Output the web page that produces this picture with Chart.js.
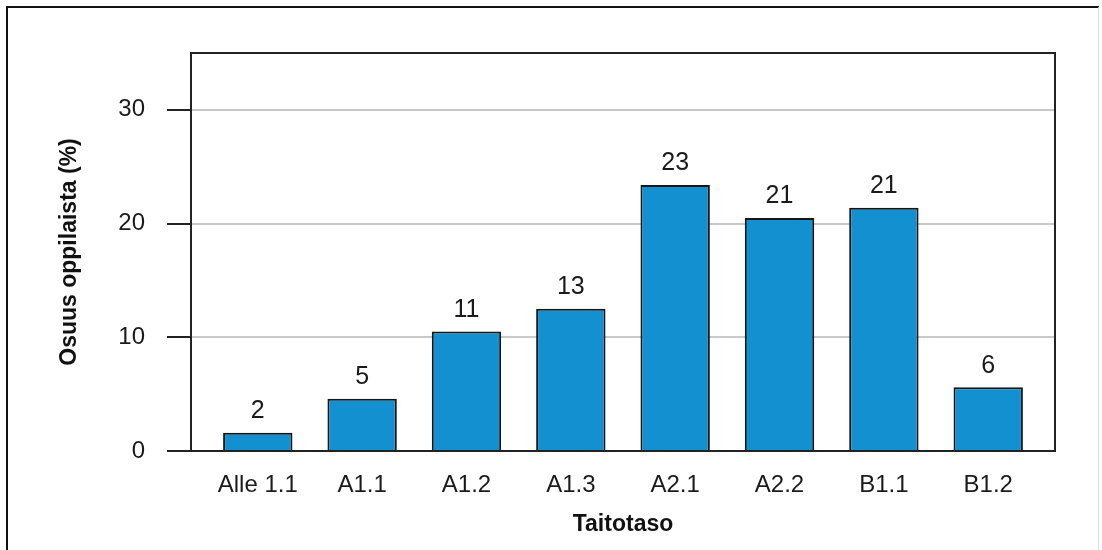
<!DOCTYPE html>
<html>
<head>
<meta charset="utf-8">
<script src="https://cdn.jsdelivr.net/npm/chart.js@4"></script>
<style>
    html, body { margin: 0; padding: 0; background: #ffffff; }
    #frame {
        position: absolute;
        left: 6px; top: 6px;
        width: 1090px; height: 560px;
        border-top: 2px solid #111111;
        border-left: 2px solid #111111;
        border-right: 1px solid #dddddd;
    }
    #wrap { position: absolute; left: 0; top: 0; width: 1102px; height: 550px; }
</style>
</head>
<body>
<div id="frame"></div>
<div id="wrap"><canvas id="bar" width="1102" height="550"></canvas></div>
<script>
// SKILL LEVEL DISTRIBUTION
const levels = ["Alle 1.1", "A1.1", "A1.2", "A1.3", "A2.1", "A2.2", "B1.1", "B1.2"];
const shares = [1.6, 4.6, 10.5, 12.5, 23.4, 20.5, 21.4, 5.6];
const yTicks = [0, 10, 20, 30];

const FONT = "'Liberation Sans', Arial, sans-serif";

// value labels above each bar
const barLabels = {
    id: 'barLabels',
    afterDatasetsDraw(chart) {
        const c = chart.ctx;
        const meta = chart.getDatasetMeta(0);
        c.save();
        c.fillStyle = '#1a1a1a';
        c.font = '25px ' + FONT;
        c.textAlign = 'center';
        c.textBaseline = 'bottom';
        meta.data.forEach((bar, i) => {
            c.fillText(String(Math.round(shares[i])), bar.x, bar.y - 9);
        });
        c.restore();
    }
};

// black box round the plot area
const plotFrame = {
    id: 'plotFrame',
    afterDatasetsDraw(chart) {
        const a = chart.chartArea;
        const c = chart.ctx;
        c.save();
        c.strokeStyle = '#222222';
        c.lineWidth = 2;
        c.strokeRect(a.left, a.top, a.right - a.left, a.bottom - a.top);
        c.restore();
    }
};

const ctx = document.getElementById("bar").getContext("2d");

new Chart(ctx, {
    type: 'bar',
    data: {
        datasets: [{
            label: 'Osuus oppilaista (%)',
            data: levels.map((_, i) => ({ x: i, y: shares[i] })),
            backgroundColor: '#1390d0',
            borderColor: '#161616',
            borderWidth: 2,
            borderSkipped: 'bottom',
            barPercentage: 0.665,
            categoryPercentage: 1
        }]
    },
    options: {
        responsive: false,
        animation: false,
        layout: {
            padding: { top: 53, right: 47, bottom: 11, left: 50 }
        },
        plugins: {
            legend: { display: false },
            tooltip: { enabled: false }
        },
        scales: {
            x: {
                type: 'linear',
                offset: false,
                min: -0.64,
                max: 7.64,
                grid: { display: false },
                border: { display: false },
                ticks: {
                    stepSize: 1,
                    includeBounds: false,
                    autoSkip: false,
                    maxRotation: 0,
                    padding: 12,
                    color: '#1a1a1a',
                    font: { family: FONT, size: 24 },
                    callback: (v) => levels[v] ?? ''
                },
                title: {
                    display: true,
                    text: 'Taitotaso',
                    color: '#111111',
                    font: { family: FONT, size: 23, weight: 'bold' },
                    padding: { top: 0, bottom: 1 }
                },
                afterFit: (scale) => { scale.height = 88; }
            },
            y: {
                min: 0,
                max: 35,
                border: { display: false },
                grid: {
                    color: (c) => c.tick.value === 0 ? '#222222' : '#c8c8c8',
                    lineWidth: 2,
                    tickColor: '#222222',
                    tickWidth: 2,
                    tickLength: 24
                },
                afterBuildTicks: (scale) => {
                    scale.ticks = yTicks.map(v => ({ value: v }));
                },
                ticks: {
                    padding: 22,
                    color: '#1a1a1a',
                    font: { family: FONT, size: 24 }
                },
                title: {
                    display: true,
                    text: 'Osuus oppilaista (%)',
                    color: '#111111',
                    font: { family: FONT, size: 23, weight: 'bold' },
                    padding: { top: 6, bottom: 0 }
                },
                afterFit: (scale) => { scale.width = 141; }
            }
        }
    },
    plugins: [barLabels, plotFrame]
});
</script>
</body>
</html>
